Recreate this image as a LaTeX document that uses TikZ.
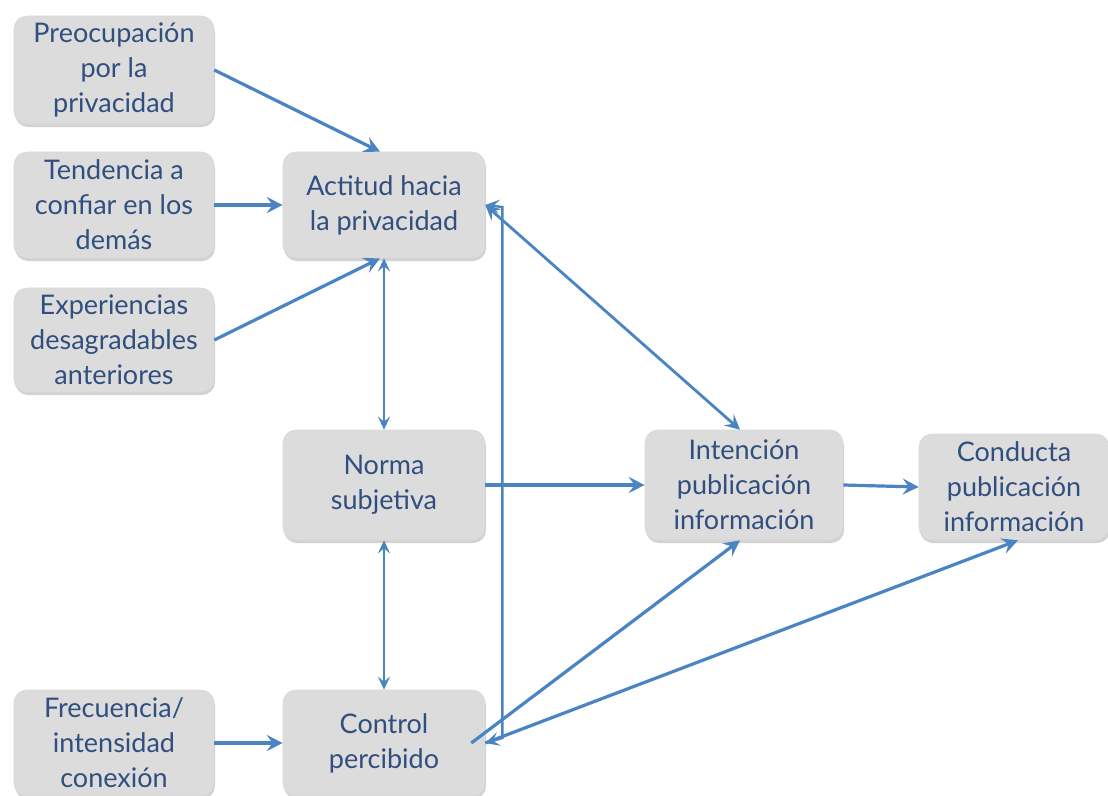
\documentclass[tikz,border=0pt]{standalone}
\usepackage{fontspec}
\setmainfont{Lato}
\usetikzlibrary{arrows.meta,shadows}
\definecolor{boxfill}{RGB}{220,220,221}
\definecolor{boxtext}{RGB}{48,78,126}
\definecolor{arrowblue}{RGB}{74,132,195}
\begin{document}
\begin{tikzpicture}[x=1pt,y=1pt,
  box/.style={rectangle, rounded corners=13pt, fill=boxfill, draw=gray!30, line width=0.6pt,
    drop shadow={shadow xshift=1pt, shadow yshift=-3pt, opacity=0.35, fill=gray},
    text=boxtext, align=center, font=\fontsize{27}{35}\selectfont,
    minimum width=200pt, minimum height=106pt, inner sep=1pt},
  conn/.style={draw=arrowblue, line width=3.2pt, -{Stealth[length=16pt,width=16pt,inset=6pt]}},
  thin/.style={draw=arrowblue, line width=2pt, {Stealth[length=13pt,width=12pt,inset=5pt]}-{Stealth[length=13pt,width=12pt,inset=5pt]}},
  both/.style={draw=arrowblue, line width=2.8pt, {Stealth[length=15pt,width=15pt,inset=6pt]}-{Stealth[length=15pt,width=15pt,inset=6pt]}}
]
\useasboundingbox (0,0) rectangle (1108,-795);
\fill[white] (0,0) rectangle (1108,-795);

\node[box, minimum height=108pt] (pre) at (114,-70) {Preocupación\\por la\\privacidad};
\node[box] (ten) at (114,-205) {Tendencia a\\confiar en los\\demás};
\node[box, minimum height=104pt] (exp) at (114,-340) {Experiencias\\desagradables\\anteriores};
\node[box, minimum width=202pt] (act) at (384,-205) {Actitud hacia\\la privacidad};
\node[box, minimum width=202pt, minimum height=110pt] (nor) at (384,-485) {Norma\\subjetiva};
\node[box, minimum width=202pt] (con) at (384,-743) {Control\\percibido};
\node[box] (fre) at (114,-743) {Frecuencia/\\intensidad\\conexión};
\node[box, minimum width=198pt, minimum height=110pt] (int) at (744,-485) {Intención\\publicación\\información};
\node[box, minimum width=190pt, minimum height=106pt] (cond) at (1014,-487) {Conducta\\publicación\\información};

\coordinate (acttop) at ([xshift=-4pt]act.north);
\coordinate (actbot) at ([xshift=-4pt]act.south);
\coordinate (topcorner) at ([xshift=17pt,yshift=-2pt]act.east);
\coordinate (botcorner) at ([xshift=17pt,yshift=5pt]con.east);
\coordinate (constart) at ([xshift=-14pt]con.east);
\coordinate (intbot) at ([xshift=-4pt]int.south);
\coordinate (intop) at ([xshift=-4pt]int.north);
\coordinate (condbot) at ([xshift=4pt]cond.south);

\draw[conn] (pre.east) -- (acttop);
\draw[conn] (ten.east) -- (act.west);
\draw[conn] (exp.east) -- (actbot);
\draw[thin] (act.south) -- (nor.north);
\draw[thin] (nor.south) -- (con.north);
\draw[conn] (nor.east) -- (int.west);
\draw[conn] (fre.east) -- (con.west);
\draw[both] (act.east) -- (intop);
\draw[draw=arrowblue, line width=2.4pt, {Stealth[length=14pt,width=14pt,inset=6pt]}-{Stealth[length=14pt,width=14pt,inset=6pt]}]
  (act.east) -- (topcorner) -- (botcorner) -- (con.east);
\draw[conn] (constart) -- (intbot);
\draw[conn] (con.east) -- (condbot);
\draw[conn] (int.east) -- (cond.west);
\end{tikzpicture}
\end{document}
